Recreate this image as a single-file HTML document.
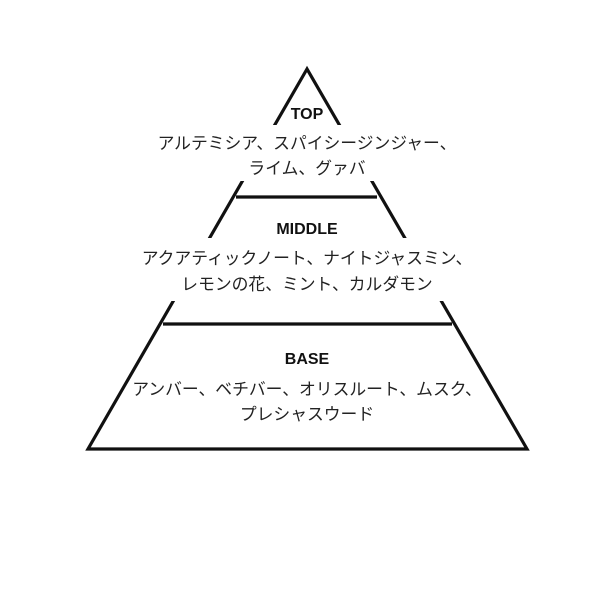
<!DOCTYPE html>
<html><head><meta charset="utf-8"><style>
html,body{margin:0;padding:0;background:#fff;}
svg{display:block;}
text{font-family:"Liberation Sans","Noto Sans CJK JP",sans-serif;text-anchor:middle;fill:#222;}
.h{font-weight:bold;font-size:16px;fill:#111;}
.j{font-size:16.8px;}
</style></head><body>
<svg width="600" height="600" viewBox="0 0 600 600">
<rect width="600" height="600" fill="#fff"/>
<g stroke="#111" stroke-width="3.2" fill="none" stroke-linejoin="miter">
<polygon points="307,69 88,449 527,449"/>
<line x1="236" y1="197" x2="377" y2="197"/>
<line x1="163" y1="324" x2="452" y2="324"/>
</g>
<rect x="150" y="125" width="314" height="56" fill="#fff"/>
<rect x="135" y="238" width="345" height="63" fill="#fff"/>
<text class="h" x="307" y="119">TOP</text>
<text class="j" x="307" y="149">アルテミシア、スパイシージンジャー、</text>
<text class="j" x="307" y="174">ライム、グァバ</text>
<text class="h" x="307" y="234">MIDDLE</text>
<text class="j" x="307" y="264">アクアティックノート、ナイトジャスミン、</text>
<text class="j" x="307" y="290">レモンの花、ミント、カルダモン</text>
<text class="h" x="307" y="364">BASE</text>
<text class="j" x="307" y="395">アンバー、ベチバー、オリスルート、ムスク、</text>
<text class="j" x="307" y="420">プレシャスウード</text>
</svg>
</body></html>
